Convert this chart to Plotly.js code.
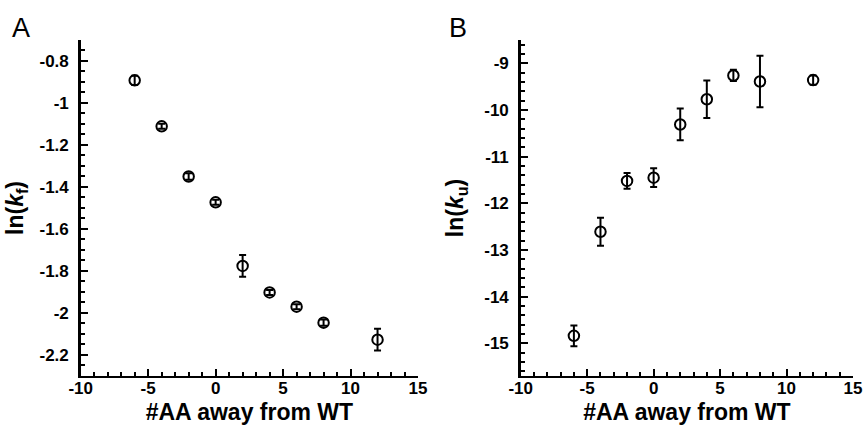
<!DOCTYPE html>
<html>
<head>
<meta charset="utf-8">
<script src="https://cdn.plot.ly/plotly-3.0.1.min.js"></script>
<style>html,body{margin:0;padding:0;background:#fff;}#chart{width:866px;height:425px;}</style>
</head>
<body>
<div id="chart"></div>
<script>
// Data
const aaAway = [-6, -4, -2, 0, 2, 4, 6, 8, 12];
const lnKf = [-0.892, -1.111, -1.350, -1.473, -1.776, -1.902, -1.970, -2.046, -2.127];
const lnKfErr = [0.022, 0.012, 0.015, 0.012, 0.052, 0.012, 0.012, 0.015, 0.052];
const lnKu = [-14.84, -12.61, -11.52, -11.45, -10.31, -9.77, -9.26, -9.39, -9.36];
const lnKuErr = [0.22, 0.30, 0.17, 0.20, 0.34, 0.40, 0.12, 0.55, 0.10];

const xTickVals = [-10, -5, 0, 5, 10, 15];
const xTickText = ["-10", "-5", "0", "5", "10", "15"];
const yATickVals = [-0.8, -1, -1.2, -1.4, -1.6, -1.8, -2, -2.2];
const yATickText = ["-0.8", "-1", "-1.2", "-1.4", "-1.6", "-1.8", "-2", "-2.2"];
const yBTickVals = [-9, -10, -11, -12, -13, -14, -15];
const yBTickText = ["-9", "-10", "-11", "-12", "-13", "-14", "-15"];

const FONT = "Liberation Sans, Arial, Helvetica, sans-serif";
const bold = arr => arr.map(s => '<b>' + s + '</b>');

function trace(x, y, err, xa, ya) {
  return {
    type: 'scatter', mode: 'markers', x: x, y: y, xaxis: xa, yaxis: ya,
    marker: {symbol: 'circle-open', size: 10.5, color: '#000', line: {width: 2, color: '#000'}},
    error_y: {type: 'data', array: err, visible: true, color: '#000', thickness: 2, width: 3.5},
    showlegend: false, hoverinfo: 'skip'
  };
}

function xaxis(domain, anchor) {
  return {
    domain: domain, anchor: anchor, range: [-10, 15],
    tickmode: 'array', tickvals: xTickVals, ticktext: bold(xTickText),
    ticks: 'inside', ticklen: 7, tickwidth: 2, tickcolor: '#000',
    minor: {ticks: 'inside', ticklen: 4, tickwidth: 2, tickcolor: '#000', dtick: 1, tick0: 0, showgrid: false},
    showline: true, linewidth: 2.5, linecolor: '#000', mirror: false,
    showgrid: false, zeroline: false, automargin: false,
    ticklabelposition: 'outside', ticklabeloverflow: 'allow', ticklabelstandoff: -5,
    tickfont: {family: FONT, size: 17, color: '#000', weight: 'bold'},
    title: {text: '<b>#AA away from WT</b>', font: {family: FONT, size: 23, color: '#000'}}
  };
}

function yaxis(domain, anchor, range, tv, tt, mdt, title) {
  return {
    domain: domain, anchor: anchor, range: range,
    tickmode: 'array', tickvals: tv, ticktext: bold(tt),
    ticks: 'inside', ticklen: 7, tickwidth: 2, tickcolor: '#000',
    minor: {ticks: 'inside', ticklen: 4, tickwidth: 2, tickcolor: '#000', dtick: mdt, tick0: 0, showgrid: false},
    showline: true, linewidth: 2.5, linecolor: '#000', mirror: false,
    showgrid: false, zeroline: false, automargin: false,
    ticklabelstandoff: 6,
    tickfont: {family: FONT, size: 17, color: '#000', weight: 'bold'},
    title: {text: title, font: {family: FONT, size: 23, color: '#000'}}
  };
}

const yDom = [0.1153, 0.9059];
const layout = {
  width: 866, height: 425,
  margin: {l: 0, r: 0, t: 0, b: 0},
  paper_bgcolor: '#fff', plot_bgcolor: '#fff',
  xaxis: xaxis([0.0932, 0.4827], 'y'),
  yaxis: yaxis(yDom, 'x', [-2.3, -0.7], yATickVals, yATickText, 0.05, '<b>ln(<i>k</i><sub>f</sub>)</b>'),
  xaxis2: xaxis([0.6013, 0.9850], 'y2'),
  yaxis2: yaxis(yDom, 'x2', [-15.7, -8.5], yBTickVals, yBTickText, 0.2, '<b>ln(<i>k</i><sub>u</sub>)</b>'),
  annotations: [
    {text: 'A', xref: 'paper', yref: 'paper', x: 10 / 866, y: 1 - 28 / 425, xanchor: 'left', yanchor: 'middle',
     showarrow: false, font: {family: FONT, size: 27, color: '#000'}},
    {text: 'B', xref: 'paper', yref: 'paper', x: 447 / 866, y: 1 - 28 / 425, xanchor: 'left', yanchor: 'middle',
     showarrow: false, font: {family: FONT, size: 27, color: '#000'}}
  ]
};

Plotly.newPlot('chart', [
  trace(aaAway, lnKf, lnKfErr, 'x', 'y'),
  trace(aaAway, lnKu, lnKuErr, 'x2', 'y2')
], layout, {staticPlot: true, displayModeBar: false});
</script>
</body>
</html>
